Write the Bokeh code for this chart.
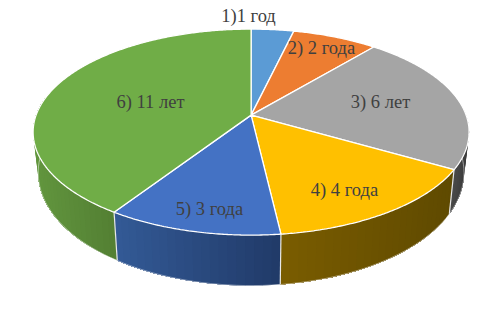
import numpy as np
from bokeh.plotting import figure
from bokeh.models import Range1d
from bokeh.core.properties import value
from bokeh.embed import file_html
from bokeh.resources import INLINE

labels = ["1)1 год", "2) 2 года", "3) 6 лет", "4) 4 года", "5) 3 года", "6) 11 лет"]
years = [1, 2, 6, 4, 3, 11]
top_colors = ["#5b9bd5", "#ed7d31", "#a5a5a5", "#ffc000", "#4472c4", "#70ad47"]
wall_light = ["#335a80", "#8a4a1d", "#4a4a4a", "#7a5c00", "#335a96", "#62963e"]
wall_dark = ["#335a80", "#8a4a1d", "#3a3a3a", "#5f4a00", "#213a68", "#537f33"]

# Label centres, in page pixels
label_x = [248, 321, 380, 344, 209, 150]
label_y = [15, 47, 101, 189, 208, 101]

# Projection of the tilted disc (page pixels)
CX = 250.6
TOP = dict(y0=114.6, bx=215, ay=100.2, c=0.165)
BOT = dict(y0=153.6, bx=210, ay=109.8, c=0.165)


def rim(theta_deg, d):
    t = np.radians(theta_deg)
    u, v = np.sin(t), np.cos(t)
    w = 1 + d["c"] * v
    return CX + d["bx"] * u / w, d["y0"] - d["ay"] * v / w


def mix(a, b, f):
    ca = [int(a[i:i + 2], 16) for i in (1, 3, 5)]
    cb = [int(b[i:i + 2], 16) for i in (1, 3, 5)]
    return "#%02x%02x%02x" % tuple(round(x + (y - x) * f) for x, y in zip(ca, cb))


p = figure(width=472, height=307, output_backend="svg", toolbar_location=None,
           x_range=Range1d(0, 472), y_range=Range1d(307, 0),
           x_axis_type=None, y_axis_type=None, min_border=0,
           outline_line_color=None, background_fill_color="white")
p.grid.visible = False

edges = np.concatenate([[0], np.cumsum(years)]) / sum(years) * 360.0

# Side walls: each strip runs from its own start to the slice's end, so later strips
# paint over earlier ones and no seams show
for i in range(len(years)):
    a0, a1 = edges[i], edges[i + 1]
    vis0, vis1 = max(a0, 85), min(a1, 280)
    if vis1 <= vis0:
        continue
    n = max(int((vis1 - vis0) / 2.0), 1)
    ang = np.linspace(vis0, vis1, n + 1)
    xt, yt = rim(ang, TOP)
    xb, yb = rim(ang, BOT)
    xmin, xmax = xb.min(), xb.max()
    xs, ys, cols = [], [], []
    for k in range(n):
        xs.append(np.r_[xt[k:], xb[k:][::-1]])
        ys.append(np.r_[yt[k:], yb[k:][::-1]])
        f = ((xb[k] + xb[k + 1]) / 2 - xmin) / max(xmax - xmin, 1)
        cols.append(mix(wall_light[i], wall_dark[i], f))
    p.patches(xs, ys, fill_color=cols, line_color=None)
    # faint light edge along the bottom of the wall
    p.line(xb, yb, line_color="#ffffff", line_alpha=0.6, line_width=0.8)

# Seams between the front walls
for a in edges[1:-1]:
    if 85 < a < 280:
        xt, yt = rim(a, TOP)
        xb, yb = rim(a, BOT)
        p.line([xt, xb], [yt, yb], line_color="#e8e8e8", line_width=1.2)

# Top face
ax, ay = CX, TOP["y0"]
for i in range(len(years)):
    ang = np.linspace(edges[i], edges[i + 1], int(edges[i + 1] - edges[i]) * 2 + 2)
    xr, yr = rim(ang, TOP)
    p.patch(np.r_[ax, xr], np.r_[ay, yr], fill_color=top_colors[i],
            line_color="white", line_width=1.3)

p.text(label_x, label_y, text=labels, text_font=value("Liberation Serif"),
       text_font_size="18.5px", text_color="#404040",
       text_align="center", text_baseline="middle")

open("out.html", "w").write(file_html(p, INLINE))
